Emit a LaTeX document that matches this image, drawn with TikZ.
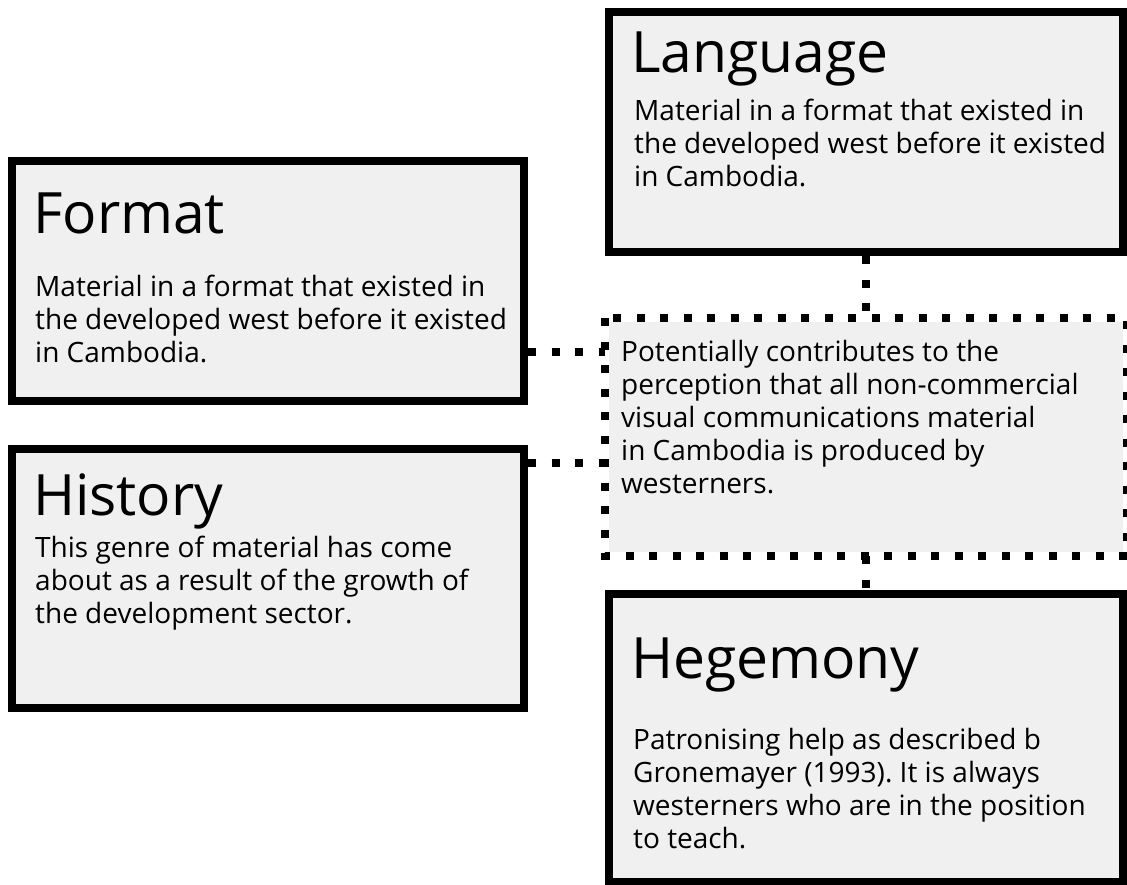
\documentclass[tikz,border=0pt]{standalone}
\usepackage{fontspec}
\setmainfont{Open Sans}
\frenchspacing
\definecolor{panelgray}{HTML}{F0F0F0}
\newcommand{\headfont}{\fontsize{57}{60}\selectfont}
\newcommand{\bodyfont}{\fontsize{28}{33}\selectfont}

\begin{document}
\begin{tikzpicture}[x=1pt, y=-1pt,
  panel/.style={draw, fill=panelgray, line width=8pt, inner sep=0pt},
  dotrule/.style={line width=8pt, dash pattern=on 8pt off 15.5pt},
  head/.style={anchor=base west, inner sep=0pt, font=\headfont},
  body/.style={anchor=north west, inner sep=0pt, align=left, font=\bodyfont}]

\useasboundingbox (0,0) rectangle (1127,884);

% the four boxes and the dotted one
\node[panel, minimum width=514pt, minimum height=240pt] (language) at (866,132) {};
\node[panel, minimum width=512pt, minimum height=240pt] (format) at (268,281) {};
\node[panel, minimum width=512pt, minimum height=259pt] (history) at (268,578.5) {};
\node[panel, draw=none, minimum width=514pt, minimum height=230pt] (effect) at (866,437) {};
\node[panel, minimum width=514pt, minimum height=288pt] (hegemony) at (866,738) {};

\draw[dotrule] (effect.north west) rectangle (effect.south east);

% links
\coordinate (fmtlink) at (0,352);
\coordinate (histlink) at (0,463);
\draw[dotrule] (format.east |- fmtlink) -- (effect.west |- fmtlink);
\draw[dotrule] (history.east |- histlink) -- (effect.west |- histlink);
\draw[dotrule] (language.south) -- (effect.north);
\draw[dotrule] (effect.south) -- (hegemony.north);

% texts
\node[head] (languagehead) at (631,72) {Language};
\node[body] (languagebody) at (634,97) {\strut Material in a format that existed in\\
  the developed west before it existed\\ in Cambodia.};

\node[head] (formathead) at (33,233) {Format};
\node[body] (formatbody) at (35,273) {\strut Material in a format that existed in\\
  the developed west before it existed\\ in Cambodia.};

\node[head] (historyhead) at (33,515) {History};
\node[body] (historybody) at (35,534) {\strut This genre of material has come\\
  about as a result of the growth of\\ the development sector.};

\node[body] (effectbody) at (621,338) {\strut Potentially contributes to the\\
  perception that all non-commercial\\ visual communications material\\
  in Cambodia is produced by\\ westerners.};

\node[head] (hegemonyhead) at (631,678) {Hegemony};
\node[body] (hegemonybody) at (633,726) {\strut Patronising help as described b\\
  Gronemayer (1993). It is always\\ westerners who are in the position\\ to teach.};

\end{tikzpicture}
\end{document}
